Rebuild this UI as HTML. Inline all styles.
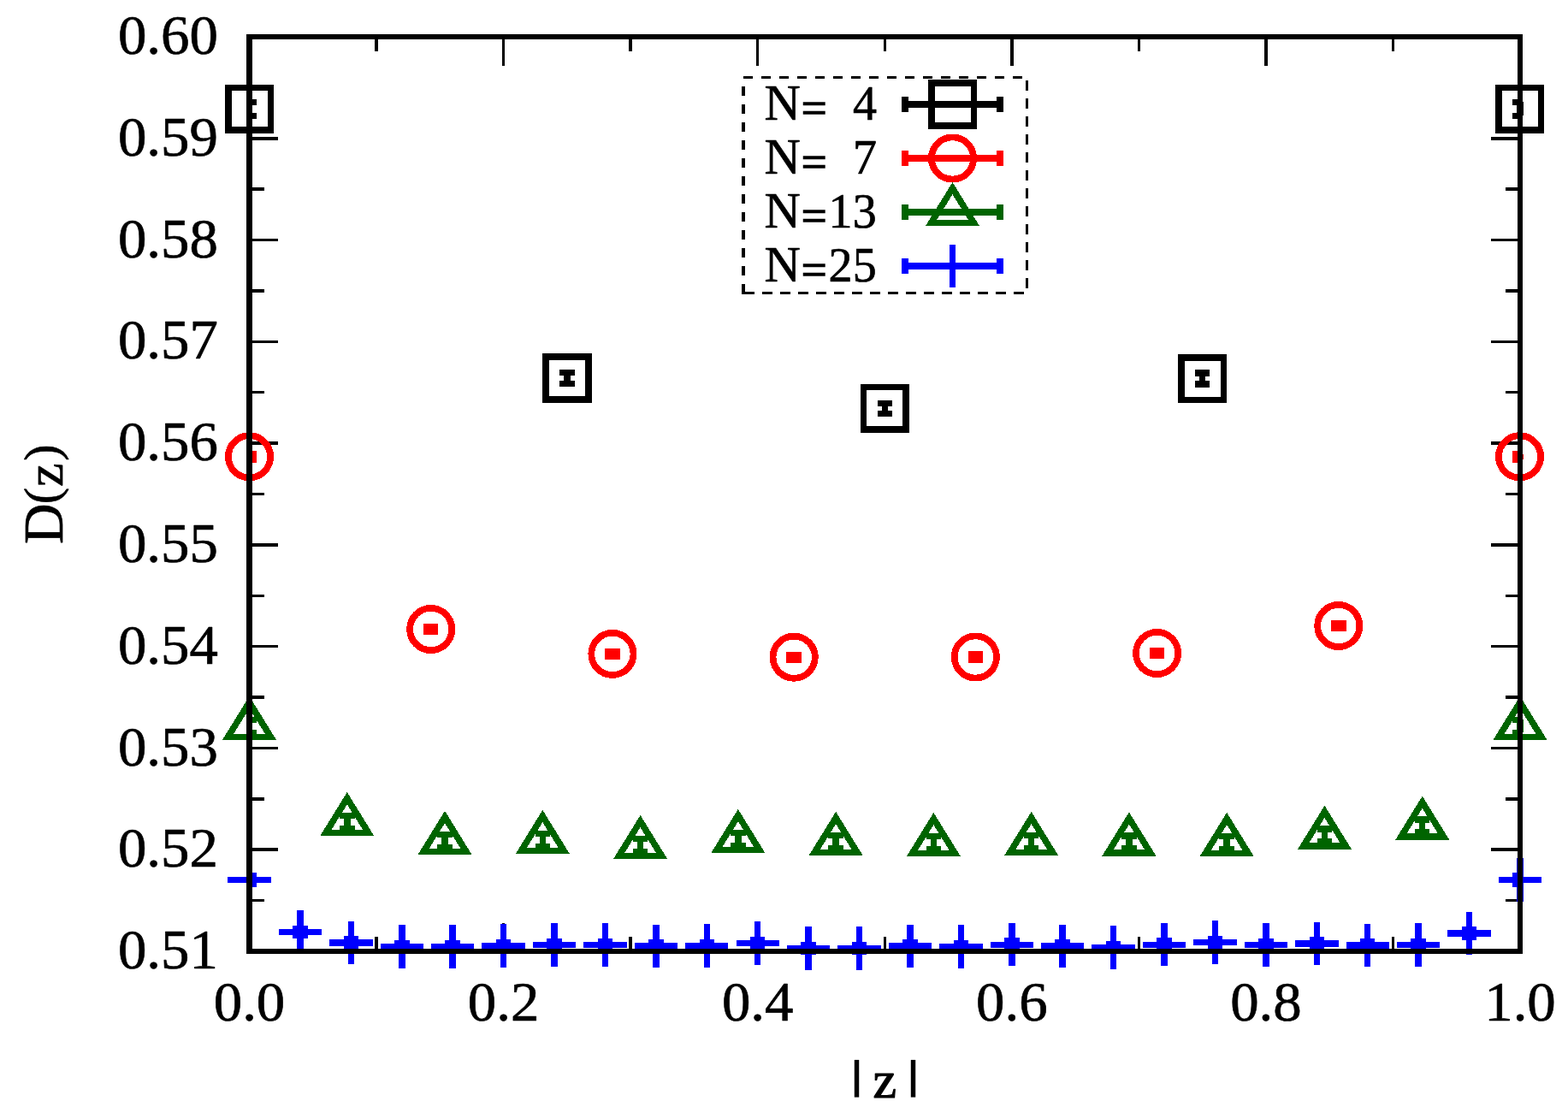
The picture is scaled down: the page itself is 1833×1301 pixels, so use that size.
<!DOCTYPE html>
<html lang="en">
<head>
<meta charset="utf-8">
<title>D(z) versus |z|</title>
<style>
html,body{margin:0;padding:0;background:#fff}
svg{display:block;font-family:"Liberation Serif","DejaVu Serif",serif}
</style>
</head>
<body>
<svg width="1833" height="1301" viewBox="0 0 1833 1301" shape-rendering="crispEdges">
<rect x="0" y="0" width="1833" height="1301" fill="#fff"/>
<g id="ticks">
<rect x="295" y="41" width="30" height="4" fill="#000"/>
<rect x="1743" y="41" width="31" height="4" fill="#000"/>
<rect x="295" y="101" width="14" height="3" fill="#000"/>
<rect x="1760" y="101" width="14" height="3" fill="#000"/>
<rect x="295" y="160" width="30" height="4" fill="#000"/>
<rect x="1743" y="160" width="31" height="4" fill="#000"/>
<rect x="295" y="219" width="14" height="4" fill="#000"/>
<rect x="1760" y="219" width="14" height="4" fill="#000"/>
<rect x="295" y="279" width="30" height="3" fill="#000"/>
<rect x="1743" y="279" width="31" height="3" fill="#000"/>
<rect x="295" y="338" width="14" height="4" fill="#000"/>
<rect x="1760" y="338" width="14" height="4" fill="#000"/>
<rect x="295" y="398" width="30" height="3" fill="#000"/>
<rect x="1743" y="398" width="31" height="3" fill="#000"/>
<rect x="295" y="457" width="14" height="3" fill="#000"/>
<rect x="1760" y="457" width="14" height="3" fill="#000"/>
<rect x="295" y="516" width="30" height="4" fill="#000"/>
<rect x="1743" y="516" width="31" height="4" fill="#000"/>
<rect x="295" y="576" width="14" height="3" fill="#000"/>
<rect x="1760" y="576" width="14" height="3" fill="#000"/>
<rect x="295" y="635" width="30" height="4" fill="#000"/>
<rect x="1743" y="635" width="31" height="4" fill="#000"/>
<rect x="295" y="695" width="14" height="3" fill="#000"/>
<rect x="1760" y="695" width="14" height="3" fill="#000"/>
<rect x="295" y="754" width="30" height="3" fill="#000"/>
<rect x="1743" y="754" width="31" height="3" fill="#000"/>
<rect x="295" y="813" width="14" height="4" fill="#000"/>
<rect x="1760" y="813" width="14" height="4" fill="#000"/>
<rect x="295" y="873" width="30" height="3" fill="#000"/>
<rect x="1743" y="873" width="31" height="3" fill="#000"/>
<rect x="295" y="932" width="14" height="4" fill="#000"/>
<rect x="1760" y="932" width="14" height="4" fill="#000"/>
<rect x="295" y="991" width="30" height="4" fill="#000"/>
<rect x="1743" y="991" width="31" height="4" fill="#000"/>
<rect x="295" y="1051" width="14" height="3" fill="#000"/>
<rect x="1760" y="1051" width="14" height="3" fill="#000"/>
<rect x="295" y="1110" width="30" height="4" fill="#000"/>
<rect x="1743" y="1110" width="31" height="4" fill="#000"/>
<rect x="290" y="46" width="3" height="31" fill="#000"/>
<rect x="290" y="1079" width="3" height="30" fill="#000"/>
<rect x="438" y="46" width="4" height="14" fill="#000"/>
<rect x="438" y="1095" width="4" height="14" fill="#000"/>
<rect x="587" y="46" width="3" height="31" fill="#000"/>
<rect x="587" y="1079" width="3" height="30" fill="#000"/>
<rect x="735" y="46" width="4" height="14" fill="#000"/>
<rect x="735" y="1095" width="4" height="14" fill="#000"/>
<rect x="884" y="46" width="3" height="31" fill="#000"/>
<rect x="884" y="1079" width="3" height="30" fill="#000"/>
<rect x="1033" y="46" width="3" height="14" fill="#000"/>
<rect x="1033" y="1095" width="3" height="14" fill="#000"/>
<rect x="1181" y="46" width="4" height="31" fill="#000"/>
<rect x="1181" y="1079" width="4" height="30" fill="#000"/>
<rect x="1330" y="46" width="3" height="14" fill="#000"/>
<rect x="1330" y="1095" width="3" height="14" fill="#000"/>
<rect x="1478" y="46" width="4" height="31" fill="#000"/>
<rect x="1478" y="1079" width="4" height="30" fill="#000"/>
<rect x="1627" y="46" width="3" height="14" fill="#000"/>
<rect x="1627" y="1095" width="3" height="14" fill="#000"/>
<rect x="1775" y="46" width="4" height="31" fill="#000"/>
<rect x="1775" y="1079" width="4" height="30" fill="#000"/>
</g>
<g id="data">
<rect x="288" y="119" width="7" height="16" fill="#000"/>
<rect x="292" y="116" width="8" height="7" fill="#000"/>
<rect x="292" y="132" width="8" height="7" fill="#000"/>
<rect x="659" y="436" width="8" height="13" fill="#000"/>
<rect x="654" y="432" width="18" height="7" fill="#000"/>
<rect x="654" y="445" width="18" height="7" fill="#000"/>
<rect x="1031" y="471" width="7" height="12" fill="#000"/>
<rect x="1026" y="468" width="17" height="7" fill="#000"/>
<rect x="1026" y="480" width="17" height="7" fill="#000"/>
<rect x="1402" y="436" width="7" height="13" fill="#000"/>
<rect x="1397" y="432" width="17" height="8" fill="#000"/>
<rect x="1397" y="445" width="17" height="8" fill="#000"/>
<rect x="1773" y="119" width="8" height="16" fill="#000"/>
<rect x="1768" y="116" width="9" height="7" fill="#000"/>
<rect x="1768" y="132" width="9" height="7" fill="#000"/>
<path fill="#000" fill-rule="evenodd" d="M263 99H320V156H263Z M271 106H313V148H271Z"/>
<path fill="#000" fill-rule="evenodd" d="M634 413H692V471H634Z M642 421H684V463H642Z"/>
<path fill="#000" fill-rule="evenodd" d="M1006 449H1063V506H1006Z M1013 456H1055V498H1013Z"/>
<path fill="#000" fill-rule="evenodd" d="M1377 414H1434V471H1377Z M1385 422H1427V464H1385Z"/>
<path fill="#000" fill-rule="evenodd" d="M1748 99H1805V156H1748Z M1756 106H1798V148H1756Z"/>
<rect x="288" y="531" width="7" height="6" fill="#f00"/>
<rect x="292" y="527" width="8" height="7" fill="#f00"/>
<rect x="292" y="533" width="8" height="8" fill="#f00"/>
<rect x="500" y="733" width="7" height="5" fill="#f00"/>
<rect x="495" y="729" width="17" height="7" fill="#f00"/>
<rect x="495" y="735" width="17" height="7" fill="#f00"/>
<rect x="712" y="762" width="8" height="5" fill="#f00"/>
<rect x="707" y="758" width="18" height="7" fill="#f00"/>
<rect x="707" y="763" width="18" height="8" fill="#f00"/>
<rect x="924" y="765" width="8" height="6" fill="#f00"/>
<rect x="919" y="762" width="18" height="7" fill="#f00"/>
<rect x="919" y="767" width="18" height="8" fill="#f00"/>
<rect x="1137" y="765" width="7" height="6" fill="#f00"/>
<rect x="1132" y="761" width="17" height="8" fill="#f00"/>
<rect x="1132" y="767" width="17" height="8" fill="#f00"/>
<rect x="1349" y="761" width="7" height="5" fill="#f00"/>
<rect x="1344" y="757" width="17" height="7" fill="#f00"/>
<rect x="1344" y="763" width="17" height="7" fill="#f00"/>
<rect x="1561" y="729" width="8" height="5" fill="#f00"/>
<rect x="1556" y="725" width="18" height="7" fill="#f00"/>
<rect x="1556" y="731" width="18" height="7" fill="#f00"/>
<rect x="1773" y="531" width="8" height="6" fill="#f00"/>
<rect x="1768" y="527" width="9" height="7" fill="#f00"/>
<rect x="1768" y="533" width="9" height="8" fill="#f00"/>
<circle cx="291.5" cy="533.8" r="24.6" fill="none" stroke="#f00" stroke-width="7.8"/>
<circle cx="503.714" cy="735.5" r="24.6" fill="none" stroke="#f00" stroke-width="7.8"/>
<circle cx="715.929" cy="764.4" r="24.6" fill="none" stroke="#f00" stroke-width="7.8"/>
<circle cx="928.143" cy="768.2" r="24.6" fill="none" stroke="#f00" stroke-width="7.8"/>
<circle cx="1140.36" cy="768" r="24.6" fill="none" stroke="#f00" stroke-width="7.8"/>
<circle cx="1352.57" cy="763.5" r="24.6" fill="none" stroke="#f00" stroke-width="7.8"/>
<circle cx="1564.79" cy="731.5" r="24.6" fill="none" stroke="#f00" stroke-width="7.8"/>
<circle cx="1776.5" cy="533.8" r="24.6" fill="none" stroke="#f00" stroke-width="7.8"/>
<rect x="288" y="841" width="7" height="15" fill="#006400"/>
<rect x="292" y="838" width="8" height="7" fill="#006400"/>
<rect x="292" y="853" width="8" height="7" fill="#006400"/>
<rect x="402" y="954" width="8" height="15" fill="#006400"/>
<rect x="397" y="950" width="18" height="7" fill="#006400"/>
<rect x="397" y="965" width="18" height="7" fill="#006400"/>
<rect x="516" y="975" width="8" height="15" fill="#006400"/>
<rect x="511" y="972" width="18" height="7" fill="#006400"/>
<rect x="511" y="987" width="18" height="7" fill="#006400"/>
<rect x="631" y="974" width="7" height="15" fill="#006400"/>
<rect x="626" y="971" width="17" height="7" fill="#006400"/>
<rect x="626" y="986" width="17" height="7" fill="#006400"/>
<rect x="745" y="980" width="7" height="15" fill="#006400"/>
<rect x="740" y="977" width="17" height="7" fill="#006400"/>
<rect x="740" y="992" width="17" height="7" fill="#006400"/>
<rect x="859" y="973" width="8" height="15" fill="#006400"/>
<rect x="854" y="970" width="18" height="7" fill="#006400"/>
<rect x="854" y="985" width="18" height="7" fill="#006400"/>
<rect x="973" y="976" width="8" height="15" fill="#006400"/>
<rect x="968" y="973" width="18" height="7" fill="#006400"/>
<rect x="968" y="988" width="18" height="7" fill="#006400"/>
<rect x="1088" y="977" width="7" height="15" fill="#006400"/>
<rect x="1083" y="974" width="17" height="7" fill="#006400"/>
<rect x="1083" y="989" width="17" height="7" fill="#006400"/>
<rect x="1202" y="976" width="7" height="15" fill="#006400"/>
<rect x="1197" y="973" width="17" height="7" fill="#006400"/>
<rect x="1197" y="988" width="17" height="7" fill="#006400"/>
<rect x="1316" y="977" width="8" height="15" fill="#006400"/>
<rect x="1311" y="973" width="18" height="8" fill="#006400"/>
<rect x="1311" y="988" width="18" height="8" fill="#006400"/>
<rect x="1430" y="977" width="8" height="15" fill="#006400"/>
<rect x="1425" y="974" width="18" height="7" fill="#006400"/>
<rect x="1425" y="989" width="18" height="7" fill="#006400"/>
<rect x="1545" y="969" width="7" height="15" fill="#006400"/>
<rect x="1540" y="965" width="17" height="8" fill="#006400"/>
<rect x="1540" y="980" width="17" height="8" fill="#006400"/>
<rect x="1659" y="958" width="7" height="15" fill="#006400"/>
<rect x="1654" y="954" width="17" height="8" fill="#006400"/>
<rect x="1654" y="969" width="17" height="8" fill="#006400"/>
<rect x="1773" y="841" width="8" height="15" fill="#006400"/>
<rect x="1768" y="838" width="9" height="7" fill="#006400"/>
<rect x="1768" y="853" width="9" height="7" fill="#006400"/>
<path d="M291.5 820.912L266.6 861.25L316.4 861.25Z" fill="none" stroke="#006400" stroke-width="7.5" stroke-linejoin="miter" stroke-miterlimit="10"/>
<path d="M405.769 933.112L380.869 973.45L430.669 973.45Z" fill="none" stroke="#006400" stroke-width="7.5" stroke-linejoin="miter" stroke-miterlimit="10"/>
<path d="M520.038 955.012L495.138 995.35L544.938 995.35Z" fill="none" stroke="#006400" stroke-width="7.5" stroke-linejoin="miter" stroke-miterlimit="10"/>
<path d="M634.308 954.012L609.408 994.35L659.208 994.35Z" fill="none" stroke="#006400" stroke-width="7.5" stroke-linejoin="miter" stroke-miterlimit="10"/>
<path d="M748.577 960.012L723.677 1000.35L773.477 1000.35Z" fill="none" stroke="#006400" stroke-width="7.5" stroke-linejoin="miter" stroke-miterlimit="10"/>
<path d="M862.846 953.012L837.946 993.35L887.746 993.35Z" fill="none" stroke="#006400" stroke-width="7.5" stroke-linejoin="miter" stroke-miterlimit="10"/>
<path d="M977.115 956.012L952.215 996.35L1002.02 996.35Z" fill="none" stroke="#006400" stroke-width="7.5" stroke-linejoin="miter" stroke-miterlimit="10"/>
<path d="M1091.38 957.012L1066.48 997.35L1116.28 997.35Z" fill="none" stroke="#006400" stroke-width="7.5" stroke-linejoin="miter" stroke-miterlimit="10"/>
<path d="M1205.65 956.012L1180.75 996.35L1230.55 996.35Z" fill="none" stroke="#006400" stroke-width="7.5" stroke-linejoin="miter" stroke-miterlimit="10"/>
<path d="M1319.92 956.512L1295.02 996.85L1344.82 996.85Z" fill="none" stroke="#006400" stroke-width="7.5" stroke-linejoin="miter" stroke-miterlimit="10"/>
<path d="M1434.19 956.912L1409.29 997.25L1459.09 997.25Z" fill="none" stroke="#006400" stroke-width="7.5" stroke-linejoin="miter" stroke-miterlimit="10"/>
<path d="M1548.46 948.812L1523.56 989.15L1573.36 989.15Z" fill="none" stroke="#006400" stroke-width="7.5" stroke-linejoin="miter" stroke-miterlimit="10"/>
<path d="M1662.73 937.712L1637.83 978.05L1687.63 978.05Z" fill="none" stroke="#006400" stroke-width="7.5" stroke-linejoin="miter" stroke-miterlimit="10"/>
<path d="M1777 820.912L1752.1 861.25L1801.9 861.25Z" fill="none" stroke="#006400" stroke-width="7.5" stroke-linejoin="miter" stroke-miterlimit="10"/>
<rect x="288" y="1024" width="7" height="9" fill="#00f"/>
<rect x="292" y="1020" width="8" height="8" fill="#00f"/>
<rect x="292" y="1030" width="8" height="7" fill="#00f"/>
<rect x="347" y="1086" width="8" height="8" fill="#00f"/>
<rect x="342" y="1082" width="18" height="7" fill="#00f"/>
<rect x="342" y="1090" width="18" height="7" fill="#00f"/>
<rect x="407" y="1098" width="7" height="8" fill="#00f"/>
<rect x="402" y="1094" width="17" height="8" fill="#00f"/>
<rect x="402" y="1102" width="17" height="8" fill="#00f"/>
<rect x="466" y="1102" width="8" height="8" fill="#00f"/>
<rect x="461" y="1099" width="18" height="7" fill="#00f"/>
<rect x="461" y="1107" width="18" height="7" fill="#00f"/>
<rect x="525" y="1103" width="8" height="8" fill="#00f"/>
<rect x="520" y="1099" width="18" height="7" fill="#00f"/>
<rect x="520" y="1107" width="18" height="7" fill="#00f"/>
<rect x="585" y="1102" width="7" height="8" fill="#00f"/>
<rect x="580" y="1098" width="17" height="7" fill="#00f"/>
<rect x="580" y="1106" width="17" height="7" fill="#00f"/>
<rect x="644" y="1101" width="8" height="8" fill="#00f"/>
<rect x="639" y="1097" width="18" height="7" fill="#00f"/>
<rect x="639" y="1105" width="18" height="7" fill="#00f"/>
<rect x="704" y="1100" width="7" height="8" fill="#00f"/>
<rect x="699" y="1097" width="17" height="7" fill="#00f"/>
<rect x="699" y="1105" width="17" height="7" fill="#00f"/>
<rect x="763" y="1102" width="8" height="8" fill="#00f"/>
<rect x="758" y="1098" width="18" height="8" fill="#00f"/>
<rect x="758" y="1106" width="18" height="8" fill="#00f"/>
<rect x="823" y="1102" width="7" height="8" fill="#00f"/>
<rect x="818" y="1098" width="17" height="7" fill="#00f"/>
<rect x="818" y="1106" width="17" height="7" fill="#00f"/>
<rect x="882" y="1099" width="7" height="8" fill="#00f"/>
<rect x="877" y="1095" width="17" height="7" fill="#00f"/>
<rect x="877" y="1103" width="17" height="7" fill="#00f"/>
<rect x="941" y="1104" width="8" height="8" fill="#00f"/>
<rect x="936" y="1101" width="18" height="7" fill="#00f"/>
<rect x="936" y="1109" width="18" height="7" fill="#00f"/>
<rect x="1001" y="1105" width="7" height="8" fill="#00f"/>
<rect x="996" y="1101" width="17" height="7" fill="#00f"/>
<rect x="996" y="1109" width="17" height="7" fill="#00f"/>
<rect x="1060" y="1102" width="8" height="8" fill="#00f"/>
<rect x="1055" y="1098" width="18" height="8" fill="#00f"/>
<rect x="1055" y="1106" width="18" height="8" fill="#00f"/>
<rect x="1120" y="1103" width="7" height="8" fill="#00f"/>
<rect x="1115" y="1099" width="17" height="7" fill="#00f"/>
<rect x="1115" y="1107" width="17" height="7" fill="#00f"/>
<rect x="1179" y="1100" width="8" height="8" fill="#00f"/>
<rect x="1174" y="1096" width="18" height="8" fill="#00f"/>
<rect x="1174" y="1104" width="18" height="8" fill="#00f"/>
<rect x="1238" y="1102" width="8" height="8" fill="#00f"/>
<rect x="1233" y="1098" width="18" height="8" fill="#00f"/>
<rect x="1233" y="1106" width="18" height="8" fill="#00f"/>
<rect x="1298" y="1104" width="7" height="8" fill="#00f"/>
<rect x="1293" y="1100" width="17" height="7" fill="#00f"/>
<rect x="1293" y="1108" width="17" height="7" fill="#00f"/>
<rect x="1357" y="1100" width="8" height="8" fill="#00f"/>
<rect x="1352" y="1096" width="18" height="8" fill="#00f"/>
<rect x="1352" y="1104" width="18" height="8" fill="#00f"/>
<rect x="1417" y="1098" width="7" height="8" fill="#00f"/>
<rect x="1412" y="1094" width="17" height="7" fill="#00f"/>
<rect x="1412" y="1102" width="17" height="7" fill="#00f"/>
<rect x="1476" y="1101" width="8" height="8" fill="#00f"/>
<rect x="1471" y="1097" width="18" height="7" fill="#00f"/>
<rect x="1471" y="1105" width="18" height="7" fill="#00f"/>
<rect x="1536" y="1099" width="7" height="8" fill="#00f"/>
<rect x="1531" y="1095" width="17" height="8" fill="#00f"/>
<rect x="1531" y="1103" width="17" height="8" fill="#00f"/>
<rect x="1595" y="1101" width="7" height="8" fill="#00f"/>
<rect x="1590" y="1097" width="17" height="8" fill="#00f"/>
<rect x="1590" y="1105" width="17" height="8" fill="#00f"/>
<rect x="1654" y="1101" width="8" height="8" fill="#00f"/>
<rect x="1649" y="1097" width="18" height="7" fill="#00f"/>
<rect x="1649" y="1105" width="18" height="7" fill="#00f"/>
<rect x="1714" y="1087" width="7" height="8" fill="#00f"/>
<rect x="1709" y="1083" width="17" height="8" fill="#00f"/>
<rect x="1709" y="1091" width="17" height="8" fill="#00f"/>
<rect x="1773" y="1024" width="8" height="9" fill="#00f"/>
<rect x="1768" y="1020" width="9" height="8" fill="#00f"/>
<rect x="1768" y="1030" width="9" height="7" fill="#00f"/>
<rect x="288" y="1003" width="7" height="51" fill="#00f"/>
<rect x="266" y="1025" width="51" height="7" fill="#00f"/>
<rect x="347" y="1064" width="8" height="51" fill="#00f"/>
<rect x="326" y="1086" width="50" height="7" fill="#00f"/>
<rect x="407" y="1077" width="7" height="50" fill="#00f"/>
<rect x="385" y="1098" width="51" height="8" fill="#00f"/>
<rect x="466" y="1081" width="8" height="51" fill="#00f"/>
<rect x="445" y="1103" width="50" height="7" fill="#00f"/>
<rect x="525" y="1081" width="8" height="51" fill="#00f"/>
<rect x="504" y="1103" width="50" height="7" fill="#00f"/>
<rect x="585" y="1080" width="7" height="51" fill="#00f"/>
<rect x="563" y="1102" width="51" height="7" fill="#00f"/>
<rect x="644" y="1079" width="8" height="51" fill="#00f"/>
<rect x="623" y="1101" width="50" height="7" fill="#00f"/>
<rect x="704" y="1079" width="7" height="51" fill="#00f"/>
<rect x="682" y="1101" width="51" height="7" fill="#00f"/>
<rect x="763" y="1081" width="8" height="50" fill="#00f"/>
<rect x="742" y="1102" width="50" height="8" fill="#00f"/>
<rect x="823" y="1080" width="7" height="51" fill="#00f"/>
<rect x="801" y="1102" width="50" height="7" fill="#00f"/>
<rect x="882" y="1077" width="7" height="51" fill="#00f"/>
<rect x="861" y="1099" width="50" height="7" fill="#00f"/>
<rect x="941" y="1083" width="8" height="51" fill="#00f"/>
<rect x="920" y="1105" width="50" height="7" fill="#00f"/>
<rect x="1001" y="1083" width="7" height="51" fill="#00f"/>
<rect x="979" y="1105" width="51" height="7" fill="#00f"/>
<rect x="1060" y="1081" width="8" height="50" fill="#00f"/>
<rect x="1039" y="1102" width="50" height="8" fill="#00f"/>
<rect x="1120" y="1081" width="7" height="51" fill="#00f"/>
<rect x="1098" y="1103" width="51" height="7" fill="#00f"/>
<rect x="1179" y="1079" width="8" height="50" fill="#00f"/>
<rect x="1158" y="1101" width="50" height="7" fill="#00f"/>
<rect x="1238" y="1081" width="8" height="50" fill="#00f"/>
<rect x="1217" y="1102" width="50" height="8" fill="#00f"/>
<rect x="1298" y="1082" width="7" height="51" fill="#00f"/>
<rect x="1276" y="1104" width="51" height="7" fill="#00f"/>
<rect x="1357" y="1079" width="8" height="50" fill="#00f"/>
<rect x="1336" y="1101" width="50" height="7" fill="#00f"/>
<rect x="1417" y="1076" width="7" height="51" fill="#00f"/>
<rect x="1395" y="1098" width="51" height="7" fill="#00f"/>
<rect x="1476" y="1079" width="8" height="51" fill="#00f"/>
<rect x="1455" y="1101" width="50" height="7" fill="#00f"/>
<rect x="1536" y="1078" width="7" height="50" fill="#00f"/>
<rect x="1514" y="1099" width="51" height="8" fill="#00f"/>
<rect x="1595" y="1080" width="7" height="50" fill="#00f"/>
<rect x="1574" y="1101" width="50" height="8" fill="#00f"/>
<rect x="1654" y="1079" width="8" height="51" fill="#00f"/>
<rect x="1633" y="1101" width="50" height="7" fill="#00f"/>
<rect x="1714" y="1066" width="7" height="50" fill="#00f"/>
<rect x="1692" y="1087" width="51" height="8" fill="#00f"/>
<rect x="1773" y="1003" width="8" height="51" fill="#00f"/>
<rect x="1752" y="1025" width="50" height="7" fill="#00f"/>
</g>
<g id="legend">
<rect x="867" y="332" width="4" height="11" fill="#000"/>
<rect x="867" y="311" width="4" height="11" fill="#000"/>
<rect x="867" y="290" width="4" height="11" fill="#000"/>
<rect x="867" y="269" width="4" height="11" fill="#000"/>
<rect x="867" y="248" width="4" height="11" fill="#000"/>
<rect x="867" y="227" width="4" height="11" fill="#000"/>
<rect x="867" y="206" width="4" height="11" fill="#000"/>
<rect x="867" y="185" width="4" height="11" fill="#000"/>
<rect x="867" y="164" width="4" height="11" fill="#000"/>
<rect x="867" y="143" width="4" height="11" fill="#000"/>
<rect x="867" y="122" width="4" height="11" fill="#000"/>
<rect x="867" y="101" width="4" height="11" fill="#000"/>
<rect x="869" y="89" width="11" height="3" fill="#000"/>
<rect x="890" y="89" width="11" height="3" fill="#000"/>
<rect x="911" y="89" width="11" height="3" fill="#000"/>
<rect x="932" y="89" width="11" height="3" fill="#000"/>
<rect x="953" y="89" width="11" height="3" fill="#000"/>
<rect x="974" y="89" width="11" height="3" fill="#000"/>
<rect x="995" y="89" width="11" height="3" fill="#000"/>
<rect x="1016" y="89" width="11" height="3" fill="#000"/>
<rect x="1037" y="89" width="11" height="3" fill="#000"/>
<rect x="1058" y="89" width="11" height="3" fill="#000"/>
<rect x="1079" y="89" width="11" height="3" fill="#000"/>
<rect x="1100" y="89" width="11" height="3" fill="#000"/>
<rect x="1121" y="89" width="11" height="3" fill="#000"/>
<rect x="1142" y="89" width="11" height="3" fill="#000"/>
<rect x="1163" y="89" width="11" height="3" fill="#000"/>
<rect x="1184" y="89" width="11" height="3" fill="#000"/>
<rect x="1199" y="94" width="3" height="12" fill="#000"/>
<rect x="1199" y="115" width="3" height="12" fill="#000"/>
<rect x="1199" y="136" width="3" height="12" fill="#000"/>
<rect x="1199" y="157" width="3" height="12" fill="#000"/>
<rect x="1199" y="178" width="3" height="12" fill="#000"/>
<rect x="1199" y="199" width="3" height="12" fill="#000"/>
<rect x="1199" y="220" width="3" height="12" fill="#000"/>
<rect x="1199" y="241" width="3" height="12" fill="#000"/>
<rect x="1199" y="262" width="3" height="12" fill="#000"/>
<rect x="1199" y="283" width="3" height="12" fill="#000"/>
<rect x="1199" y="304" width="3" height="12" fill="#000"/>
<rect x="1199" y="325" width="3" height="12" fill="#000"/>
<rect x="870" y="341" width="12" height="3" fill="#000"/>
<rect x="891" y="341" width="12" height="3" fill="#000"/>
<rect x="912" y="341" width="12" height="3" fill="#000"/>
<rect x="933" y="341" width="12" height="3" fill="#000"/>
<rect x="954" y="341" width="12" height="3" fill="#000"/>
<rect x="975" y="341" width="12" height="3" fill="#000"/>
<rect x="996" y="341" width="12" height="3" fill="#000"/>
<rect x="1017" y="341" width="12" height="3" fill="#000"/>
<rect x="1038" y="341" width="12" height="3" fill="#000"/>
<rect x="1059" y="341" width="12" height="3" fill="#000"/>
<rect x="1080" y="341" width="12" height="3" fill="#000"/>
<rect x="1101" y="341" width="12" height="3" fill="#000"/>
<rect x="1122" y="341" width="12" height="3" fill="#000"/>
<rect x="1143" y="341" width="12" height="3" fill="#000"/>
<rect x="1164" y="341" width="12" height="3" fill="#000"/>
<rect x="1185" y="341" width="12" height="3" fill="#000"/>
<rect x="867" y="341" width="4" height="3" fill="#000"/>
<rect x="1054" y="118" width="119" height="8" fill="#000"/>
<rect x="1054" y="113" width="8" height="18" fill="#000"/>
<rect x="1165" y="113" width="8" height="18" fill="#000"/>
<rect x="1054" y="181" width="119" height="8" fill="#f00"/>
<rect x="1054" y="176" width="8" height="18" fill="#f00"/>
<rect x="1165" y="176" width="8" height="18" fill="#f00"/>
<rect x="1054" y="244" width="119" height="8" fill="#006400"/>
<rect x="1054" y="239" width="8" height="18" fill="#006400"/>
<rect x="1165" y="239" width="8" height="18" fill="#006400"/>
<rect x="1054" y="307" width="119" height="8" fill="#00f"/>
<rect x="1054" y="302" width="8" height="18" fill="#00f"/>
<rect x="1165" y="302" width="8" height="18" fill="#00f"/>
<path fill="#000" fill-rule="evenodd" d="M1085 93H1142V151H1085Z M1093 101H1135V143H1093Z"/>
<circle cx="1113.5" cy="185" r="24.6" fill="none" stroke="#f00" stroke-width="7.8"/>
<path d="M1113.5 220.112L1088.6 260.45L1138.4 260.45Z" fill="none" stroke="#006400" stroke-width="7.5" stroke-linejoin="miter" stroke-miterlimit="10"/>
<rect x="1110" y="286" width="7" height="50" fill="#00f"/>
<rect x="1088" y="307" width="51" height="8" fill="#00f"/>
</g>
<g id="border">
<rect x="288" y="40" width="1492" height="6" fill="#000"/>
<rect x="288" y="1109" width="1492" height="6" fill="#000"/>
<rect x="288" y="40" width="7" height="1075" fill="#000"/>
<rect x="1774" y="40" width="6" height="1075" fill="#000"/>
</g>
<g id="labels" fill="#000" stroke="#000" stroke-width="0.7" stroke-linejoin="round">
<text transform="translate(137.9 63.1) scale(0.983 0.957)" font-size="68" text-anchor="start">0.60</text>
<text transform="translate(137.9 181.878) scale(0.983 0.957)" font-size="68" text-anchor="start">0.59</text>
<text transform="translate(137.9 300.656) scale(0.983 0.957)" font-size="68" text-anchor="start">0.58</text>
<text transform="translate(137.9 419.433) scale(0.983 0.957)" font-size="68" text-anchor="start">0.57</text>
<text transform="translate(137.9 538.211) scale(0.983 0.957)" font-size="68" text-anchor="start">0.56</text>
<text transform="translate(137.9 656.989) scale(0.983 0.957)" font-size="68" text-anchor="start">0.55</text>
<text transform="translate(137.9 775.767) scale(0.983 0.957)" font-size="68" text-anchor="start">0.54</text>
<text transform="translate(137.9 894.544) scale(0.983 0.957)" font-size="68" text-anchor="start">0.53</text>
<text transform="translate(137.9 1013.32) scale(0.983 0.957)" font-size="68" text-anchor="start">0.52</text>
<text transform="translate(137.9 1132.1) scale(0.983 0.957)" font-size="68" text-anchor="start">0.51</text>
<text transform="translate(291.5 1192.6) scale(0.983 0.957)" font-size="68" text-anchor="middle">0.0</text>
<text transform="translate(588.6 1192.6) scale(0.983 0.957)" font-size="68" text-anchor="middle">0.2</text>
<text transform="translate(885.7 1192.6) scale(0.983 0.957)" font-size="68" text-anchor="middle">0.4</text>
<text transform="translate(1182.8 1192.6) scale(0.983 0.957)" font-size="68" text-anchor="middle">0.6</text>
<text transform="translate(1479.9 1192.6) scale(0.983 0.957)" font-size="68" text-anchor="middle">0.8</text>
<text transform="translate(1777 1192.6) scale(0.983 0.957)" font-size="68" text-anchor="middle">1.0</text>
<text font-size="58.5" x="893.5" y="140.2">N<tspan x="936.8" dy="4.1" font-size="53" stroke-width="1.3" stroke-linejoin="miter">=</tspan> <tspan dy="-4.1" x="996.9" font-size="56">4</tspan></text>
<text font-size="58.5" x="893.5" y="203.1">N<tspan x="936.8" dy="4.1" font-size="53" stroke-width="1.3" stroke-linejoin="miter">=</tspan> <tspan dy="-4.1" x="996.9" font-size="56">7</tspan></text>
<text font-size="58.5" x="893.5" y="266">N<tspan x="936.8" dy="4.1" font-size="53" stroke-width="1.3" stroke-linejoin="miter">=</tspan><tspan dy="-4.1" x="968.5 996.7" font-size="56">13</tspan></text>
<text font-size="58.5" x="893.5" y="328.9">N<tspan x="936.8" dy="4.1" font-size="53" stroke-width="1.3" stroke-linejoin="miter">=</tspan><tspan dy="-4.1" x="968.5 996.7" font-size="56">25</tspan></text>
<text id="xlabel" font-size="62" y="1282.9"><tspan x="997" dy="-11" font-size="45" stroke-width="3.2" stroke-linejoin="miter">|</tspan><tspan x="1020.4" dy="11" stroke-width="1.2">z</tspan><tspan x="1063" dy="-11" font-size="45" stroke-width="3.2" stroke-linejoin="miter">|</tspan></text>
<text id="ylabel" font-size="62" transform="translate(72.9 634) rotate(-90)"><tspan x="-2" font-size="66">D</tspan><tspan x="44.8" dy="-5" font-size="57.8">(</tspan><tspan x="65" dy="5">z</tspan><tspan x="95.3" dy="-5" font-size="57.8">)</tspan></text>
</g>
</svg>
</body>
</html>
